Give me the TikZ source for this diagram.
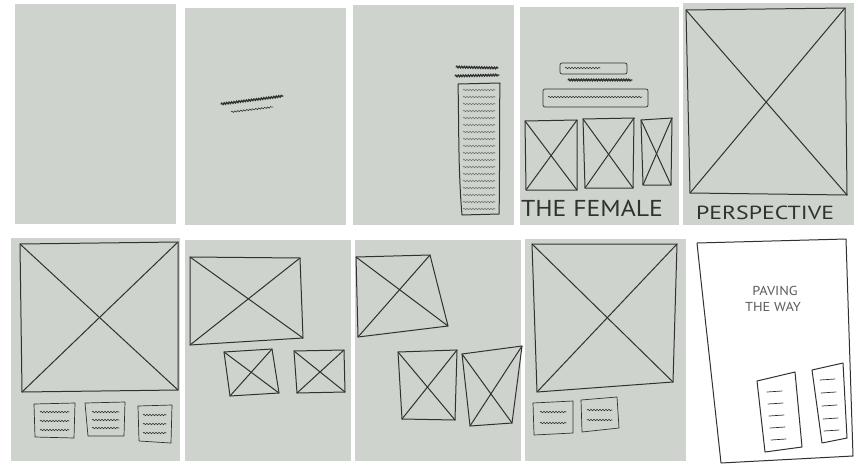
\documentclass[tikz,border=0pt]{standalone}
\usepackage{fontspec}
\setmainfont{PT Sans}
\usetikzlibrary{decorations.pathmorphing}
\definecolor{paper}{RGB}{206,211,205}
\definecolor{inkc}{RGB}{48,50,48}
\tikzset{
  panel/.style={fill=paper, draw=none},
  ink/.style={draw=inkc, line width=1pt, line join=round, line cap=round},
  thinink/.style={draw=inkc, line width=0.7pt, line join=round, line cap=round},
  scrib/.style={draw=inkc, line width=0.6pt, line cap=round, decorate, decoration={snake, amplitude=0.7pt, segment length=3pt}},
  boldscrib/.style={draw=inkc, line width=1.3pt, line cap=round, decorate, decoration={snake, amplitude=0.8pt, segment length=2.5pt}},
  hand/.style={text=inkc, inner sep=0pt, font=\fontsize{23}{23}\selectfont},
  light/.style={text=inkc!80, inner sep=0pt, font=\fontsize{13}{13}\selectfont}
}
\newcommand\xquad[4]{\draw[ink] #1 -- #2 -- #3 -- #4 -- cycle; \draw[ink] #1 -- #3; \draw[ink] #2 -- #4;}
\begin{document}
\begin{tikzpicture}[x=1pt,y=-1pt]
\useasboundingbox (0,0) rectangle (858,466);
\fill[white] (0,0) rectangle (858,466);
% top row panels
\fill[panel] (15,4) rectangle (176,224);
\fill[panel] (185,8) rectangle (346,225);
\fill[panel] (353,5) rectangle (514,225);
\fill[panel] (520,7) rectangle (679,225);
\fill[panel] (683,3) rectangle (854,225);
% bottom row panels
\fill[panel] (11,238) rectangle (180,461);
\fill[panel] (185,240) rectangle (351,461);
\fill[panel] (355,240) rectangle (521,461);
\fill[panel] (525,239) rectangle (686,461);

% panel 2: scribbled title
\draw[boldscrib] (221,104) -- (283,96);
\draw[scrib] (231,112) -- (273,107);

% panel 3: heading + text column
\draw[boldscrib] (456,67) -- (498,68);
\draw[boldscrib] (455,76) -- (499,75);
\draw[ink] (458,84) -- (500,83) .. controls (499,130) and (500,180) .. (499,214) -- (462,215) .. controls (458,170) and (459,120) .. (458,84);
\foreach \y in {90,97,...,209} {\draw[scrib, draw=inkc!70] (463,\y) -- (495,\y);}

% panel 4
\draw[thinink, rounded corners=2pt] (560,63) rectangle (627,74);
\draw[scrib] (565,68) -- (600,68);
\draw[boldscrib] (568,80) -- (632,80);
\draw[thinink, rounded corners=2pt] (543,89) rectangle (648,107);
\draw[scrib] (548,97) -- (642,97);
\xquad{(525,121)}{(577,120)}{(577,190)}{(526,190)}
\xquad{(583,119)}{(634,118)}{(633,188)}{(585,188)}
\xquad{(641,120)}{(672,118)}{(671,185)}{(643,185)}
\node[hand, xscale=1.12] (female) at (592,208) {THE FEMALE};

% panel 5
\xquad{(686,10)}{(845,8)}{(847,195)}{(690,193)}
\node[hand, font=\fontsize{19}{19}\selectfont, xscale=1.25] (persp) at (765,213) {PERSPECTIVE};

% panel 6
\xquad{(20,244)}{(178,242)}{(178,390)}{(22,392)}
\draw[thinink] (34,404) -- (75,403) -- (74,438) -- (35,437) -- cycle;
\draw[thinink] (85,403) -- (125,402) -- (124,436) -- (88,436) -- cycle;
\draw[thinink] (138,406) -- (172,405) -- (171,443) -- (139,441) -- cycle;
\foreach \y in {412,421,430} {\draw[scrib] (40,\y) -- (69,\y);}
\foreach \y in {412,420,428} {\draw[scrib] (92,\y) -- (119,\y);}
\foreach \y in {415,424,433} {\draw[scrib] (143,\y) -- (166,\y);}

% panel 7
\xquad{(190,257)}{(300,258)}{(303,338)}{(190,345)}
\xquad{(224,352)}{(272,349)}{(279,393)}{(230,396)}
\xquad{(294,351)}{(344,350)}{(345,392)}{(297,393)}

% panel 8
\xquad{(356,257)}{(430,255)}{(448,326)}{(358,337)}
\xquad{(398,352)}{(457,350)}{(455,420)}{(402,419)}
\xquad{(462,354)}{(522,346)}{(512,423)}{(470,426)}

% panel 9
\xquad{(532,244)}{(677,244)}{(673,382)}{(537,392)}
\draw[thinink] (533,403) -- (573,401) -- (573,433) -- (534,435) -- cycle;
\draw[thinink] (581,400) -- (617,397) -- (619,428) -- (582,432) -- cycle;
\foreach \y in {412,423} {\draw[scrib] (540,\y) -- (566,\y);}
\foreach \y in {410,420} {\draw[scrib] (587,\y) -- (612,\y);}

% panel 10 (white sheet)
\draw[ink, fill=white] (697,243) -- (846,239) -- (853,456) -- (721,463) .. controls (712,380) and (703,300) .. (697,243);
\node[light, xscale=1.1] (paving) at (775,291) {PAVING};
\node[light, xscale=1.1] (theway) at (773,307) {THE WAY};
\draw[ink] (757,381) -- (795,372) -- (802,447) -- (765,452) -- cycle;
\draw[ink] (812,370) -- (843,363) -- (847,438) -- (822,443) -- cycle;
\foreach \y/\d in {392/0,404/1,416/2,428/3,440/4} {\draw[thinink] (767+\d,\y) -- (782+\d,\y-1);}
\foreach \y/\d in {380/0,393/1,406/2,419/3,431/4} {\draw[thinink] (820+\d,\y) -- (835+\d,\y-1);}
\end{tikzpicture}
\end{document}
